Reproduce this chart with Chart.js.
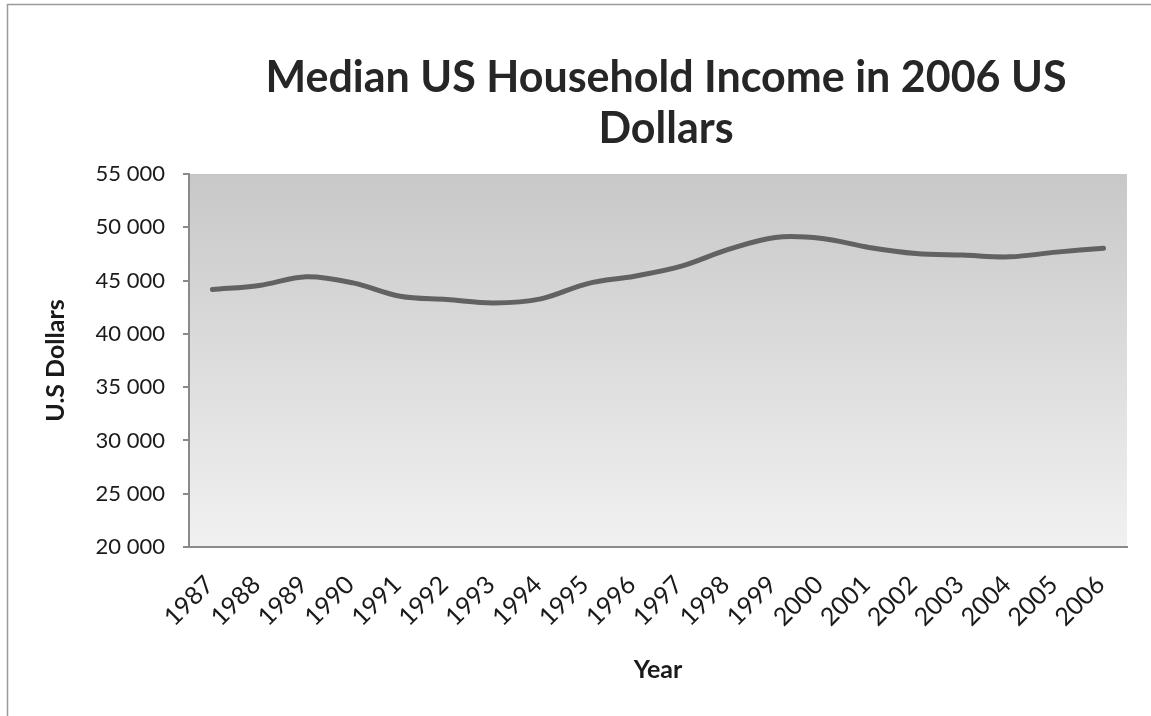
<!DOCTYPE html>
<html>
<head>
<meta charset="utf-8">
<script src="https://cdn.jsdelivr.net/npm/chart.js@4.4.0/dist/chart.umd.min.js"></script>
<style>
  html, body { margin: 0; padding: 0; background: #fff; }
  #wrap { width: 1151px; height: 716px; }
</style>
</head>
<body>
<div id="wrap"><canvas id="incomeChart" width="1151" height="716"></canvas></div>
<script>
const years = ['1987', '1988', '1989', '1990', '1991', '1992', '1993', '1994', '1995', '1996',
               '1997', '1998', '1999', '2000', '2001', '2002', '2003', '2004', '2005', '2006'];
const medianIncome = [44160, 44540, 45350, 44780, 43530, 43220, 42900, 43280, 44720, 45410,
                      46350, 47920, 49050, 48950, 48110, 47540, 47390, 47230, 47670, 48040];
const titleLines = ['Median US Household Income in 2006 US', 'Dollars'];

const fmt = (v) => String(v).replace(/\B(?=(\d{3})+(?!\d))/g, ' ');

// frame, gradient plot background and the two-line title centred over the plot
const chartDecor = {
    id: 'chartDecor',
    beforeDraw(chart) {
        const {ctx, chartArea: a} = chart;
        ctx.save();
        ctx.strokeStyle = '#9a9a9a';
        ctx.lineWidth = 1.5;
        ctx.strokeRect(7.5, 4.5, 1160, 730);
        const g = ctx.createLinearGradient(0, a.top, 0, a.bottom);
        g.addColorStop(0, '#c8c8c8');
        g.addColorStop(1, '#f1f1f1');
        ctx.fillStyle = g;
        ctx.fillRect(a.left, a.top, a.right - a.left, a.bottom - a.top);
        ctx.restore();
    },
    afterDraw(chart) {
        const {ctx, chartArea: a} = chart;
        const cx = (a.left + a.right) / 2 + 8;
        ctx.save();
        ctx.font = 'bold 43px Lato';
        ctx.fillStyle = '#262626';
        ctx.textAlign = 'center';
        ctx.textBaseline = 'middle';
        titleLines.forEach((t, i) => ctx.fillText(t, cx, 78 + i * 51));
        ctx.restore();
    }
};

new Chart(document.getElementById('incomeChart'), {
    type: 'line',
    data: {
        labels: years,
        datasets: [{
            label: 'Median income',
            data: medianIncome,
            borderColor: '#626262',
            borderWidth: 5,
            borderCapStyle: 'round',
            borderJoinStyle: 'round',
            pointRadius: 0,
            tension: 0.35,
            fill: false
        }]
    },
    options: {
        responsive: false,
        devicePixelRatio: 1,
        animation: false,
        layout: { padding: { top: 174, right: 24, left: 0, bottom: 0 } },
        plugins: {
            legend: { display: false },
            tooltip: { enabled: false }
        },
        scales: {
            x: {
                offset: true,
                afterFit(scale) { scale.height = 169; },
                grid: { display: false, drawTicks: false },
                border: { display: true, color: '#8a8a8a', width: 2 },
                ticks: {
                    minRotation: 45,
                    maxRotation: 45,
                    padding: 23,
                    labelOffset: -3,
                    color: '#1a1a1a',
                    font: { family: 'Lato', size: 25 }
                },
                title: {
                    display: true,
                    text: 'Year',
                    color: '#1a1a1a',
                    font: { family: 'Lato', size: 25, weight: 'bold' },
                    padding: { top: 0, bottom: 31 }
                }
            },
            y: {
                min: 20000,
                max: 55000,
                afterFit(scale) { scale.width = 189; },
                grid: { display: true, drawOnChartArea: false, drawTicks: true, tickLength: 6, color: '#8a8a8a', lineWidth: 2 },
                border: { display: true, color: '#8a8a8a', width: 2 },
                ticks: {
                    stepSize: 5000,
                    padding: 18,
                    color: '#1a1a1a',
                    font: { family: 'Lato', size: 22 },
                    callback: (v) => fmt(v)
                },
                title: {
                    display: true,
                    text: 'U.S Dollars',
                    color: '#1a1a1a',
                    font: { family: 'Lato', size: 25, weight: 'bold' },
                    padding: { top: 41, bottom: 0 }
                }
            }
        }
    },
    plugins: [chartDecor]
});
</script>
</body>
</html>
